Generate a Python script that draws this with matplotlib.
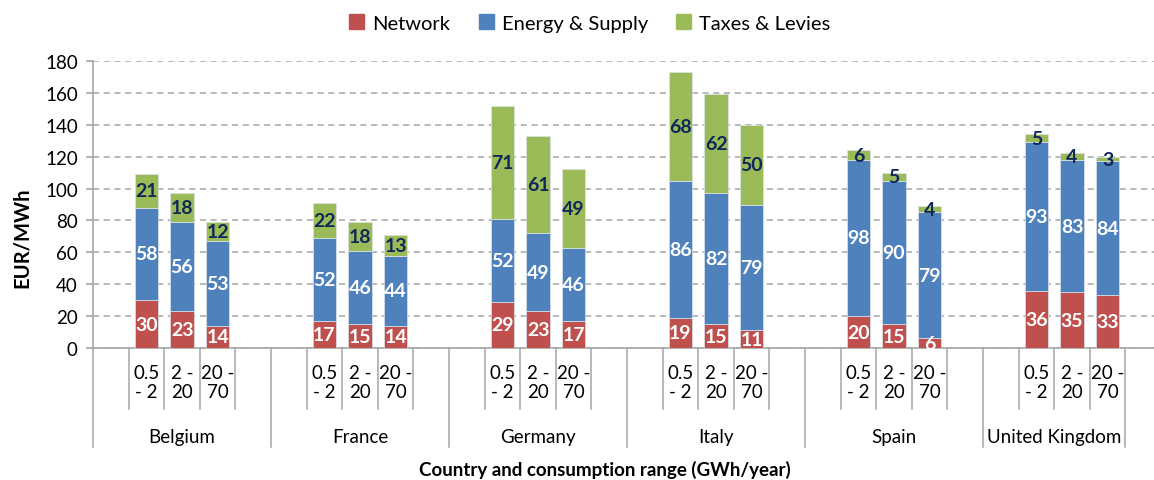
import matplotlib
matplotlib.use('Agg')
import matplotlib.pyplot as plt
from matplotlib.patches import Patch
import numpy as np

plt.rcParams['font.family'] = ['Lato', 'DejaVu Sans']

countries = ['Belgium', 'France', 'Germany', 'Italy', 'Spain', 'United Kingdom']
ranges = ['0.5\n- 2', '2 -\n20', '20 -\n70']

network = [30, 23, 14, 17, 15, 14, 29, 23, 17, 19, 15, 11, 20, 15, 6, 36, 35, 33]
energy = [58, 56, 53, 52, 46, 44, 52, 49, 46, 86, 82, 79, 98, 90, 79, 93, 83, 84]
taxes = [21, 18, 12, 22, 18, 13, 71, 61, 49, 68, 62, 50, 6, 5, 4, 5, 4, 3]

series_names = ['Network', 'Energy & Supply', 'Taxes & Levies']
colors = ['#C0504D', '#4F81BD', '#9BBB59']
label_colors = ['white', 'white', '#10275A']

W, H = 1154, 481
fig = plt.figure(figsize=(W / 100, H / 100), dpi=100)
# plot area in pixels: x 93..1161, y 62..349
ax = fig.add_axes([93 / W, (H - 349) / H, 1068 / W, 287 / H])

# each country: empty slot, 3 bars, empty slot (last slot of UK has no category)
n_slots = 5
pos = []
for g in range(len(countries)):
    for j in range(3):
        pos.append(g * n_slots + 1 + j + 0.5)
pos = np.array(pos)

bottom = np.zeros(len(pos))
for vals, col, lcol in zip([network, energy, taxes], colors, label_colors):
    vals = np.array(vals)
    ax.bar(pos, vals, width=0.66, bottom=bottom, color=col, edgecolor='#DCE3EE',
           linewidth=0.5, zorder=3)
    for x, b, v in zip(pos, bottom, vals):
        ax.text(x, b + v / 2, str(v), ha='center', va='center', color=lcol,
                fontsize=14, fontweight='bold', zorder=4)
    bottom = bottom + vals

ax.set_xlim(0, 30)
ax.set_ylim(0, 180)
ax.set_yticks(np.arange(0, 181, 20))
ax.yaxis.grid(True, linestyle=(0, (4, 3)), color='#A6A6A6', linewidth=1.1, zorder=0)
ax.set_xticks([])
for s in ['top', 'right']:
    ax.spines[s].set_visible(False)
for s in ['left', 'bottom']:
    ax.spines[s].set_color('#A6A6A6')
    ax.spines[s].set_linewidth(1.2)
ax.tick_params(axis='y', colors='#A6A6A6', length=5, width=1.2, labelsize=13.5,
               labelcolor='black', pad=6)

# multi-level category axis drawn below the plot
trans = ax.get_xaxis_transform()
last = len(countries) * n_slots - 1
for k in range(last + 1):
    long_tick = (k % n_slots == 0) or k == last
    y_end = -0.345 if long_tick else -0.2125
    ax.plot([k, k], [0, y_end], transform=trans, color='#A6A6A6', lw=1.1, clip_on=False)

for x, lab in zip(pos, ranges * len(countries)):
    ax.text(x, -0.12, lab, transform=trans, ha='center', va='center',
            fontsize=13.5, linespacing=1.15)

for g, c in enumerate(countries):
    right = min(g * n_slots + n_slots, last)
    ax.text((g * n_slots + right) / 2, -0.308, c, transform=trans, ha='center',
            va='center', fontsize=13.5)

fig.text(605 / W, 2 / H, 'Country and consumption range (GWh/year)',
         ha='center', va='bottom', fontsize=13.5, fontweight='bold')
fig.text(22 / W, 1 - 238 / H, 'EUR/MWh', rotation=90, ha='center', va='center',
         fontsize=14.5, fontweight='bold')

handles = [Patch(color=c) for c in colors]
fig.legend(handles, series_names, loc='center', bbox_to_anchor=(590 / W, 1 - 24 / H),
           ncol=3, frameon=False, fontsize=14.5, handlelength=0.75, handleheight=0.75,
           handletextpad=0.4, columnspacing=1.4)

fig.savefig('out.png', dpi=100)
